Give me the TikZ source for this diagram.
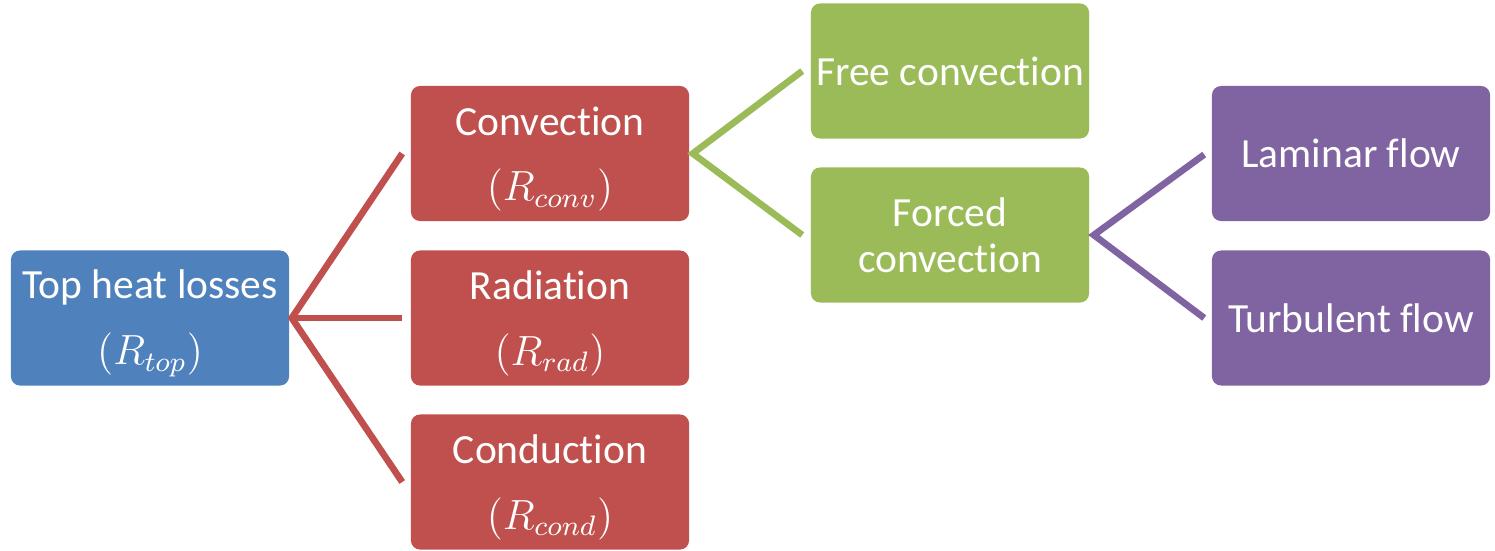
\documentclass[tikz,border=0pt]{standalone}
\usepackage{fontspec}
\setmainfont{Carlito}[Ligatures=CommonOff]
\definecolor{cblue}{HTML}{4F81BD}
\definecolor{cred}{HTML}{C0504D}
\definecolor{cgreen}{HTML}{9BBB59}
\definecolor{cpurple}{HTML}{8064A2}
% taller first line to lower a two-line label
\newcommand{\topstrut}{\rule{0pt}{11.2pt}}
\begin{document}
\begin{tikzpicture}[x=0.01cm,y=-0.01cm,
  box/.style={rounded corners=2.6pt, minimum width=2.78cm, minimum height=1.35cm,
    inner sep=0pt, align=center, text=white, font=\fontsize{11.8}{14}\selectfont},
  link/.style={line width=1.9pt}]
\useasboundingbox (0,0) rectangle (1495,550);
% boxes
\node[box, fill=cblue]   (top)  at (150,318)  {\topstrut Top heat losses\\[4.7pt]$(R_{top})$};
\node[box, fill=cred]    (conv) at (550,153.5){\topstrut Convection\\[4.7pt]$(R_{conv})$};
\node[box, fill=cred]    (rad)  at (550,318)  {\topstrut Radiation\\[4.7pt]$(R_{rad})$};
\node[box, fill=cred]    (cond) at (550,482)  {\topstrut Conduction\\[4.7pt]$(R_{cond})$};
\node[box, fill=cgreen]  (free) at (950,71)   {Free convection};
\node[box, fill=cgreen]  (forc) at (950,235)  {Forced\\[-1pt]convection};
\node[box, fill=cpurple] (lam)  at (1351,153.5){Laminar flow};
\node[box, fill=cpurple] (turb) at (1351,318)  {Turbulent flow};
% branch end points
\coordinate (a0) at ([xshift=0.02cm]top.east);
\coordinate (a1) at ([xshift=-0.08cm]conv.west);
\coordinate (a2) at ([xshift=-0.08cm]rad.west);
\coordinate (a3) at ([xshift=-0.08cm]cond.west);
\coordinate (b0) at ([xshift=0.03cm]conv.east);
\coordinate (b1) at ([xshift=-0.08cm]free.west);
\coordinate (b2) at (forc.west -| b1);
\coordinate (c0) at ([xshift=0.04cm]forc.east);
\coordinate (c1) at ([xshift=-0.07cm,yshift=-0.01cm]lam.west);
\coordinate (c2) at (turb.west -| c1);
% connectors
\draw[link, cred]    (a1) -- (a0) -- (a3);
\draw[link, cred]    (a0) -- (a2);
\draw[link, cgreen]  (b1) -- (b0) -- (b2);
\draw[link, cpurple] (c1) -- (c0) -- (c2);
\end{tikzpicture}
\end{document}
